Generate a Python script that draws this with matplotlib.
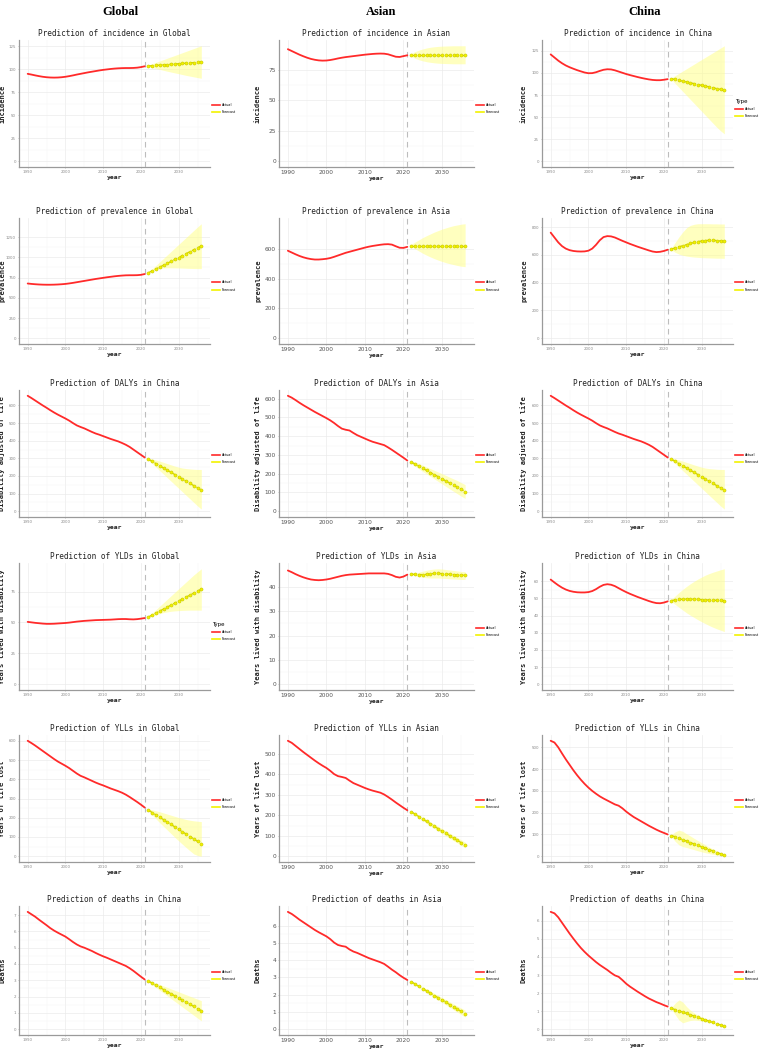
import matplotlib
matplotlib.use("Agg")
import matplotlib.pyplot as plt
from matplotlib.lines import Line2D
import numpy as np

# ---------------- data ----------------
years_actual = list(range(1990, 2022))
years_fc = list(range(2022, 2037))

# Row 1: incidence
glob_inc = [95, 94.2, 93.3, 92.5, 91.8, 91.3, 91.0, 90.9, 91.0, 91.3, 91.8, 92.5, 93.3, 94.2, 95.0, 95.8,
            96.6, 97.3, 98.0, 98.7, 99.3, 99.8, 100.3, 100.7, 101.0, 101.2, 101.3, 101.3, 101.4, 101.7, 102.3, 103.2]
glob_inc_fc = [103.6, 103.9, 104.2, 104.5, 104.8, 105.1, 105.4, 105.7, 106.0, 106.3, 106.6, 106.9, 107.2, 107.5, 107.8]
glob_inc_hi = [104.2, 106.0, 107.5, 109.0, 110.5, 112.0, 113.5, 115.0, 116.5, 118.0, 119.5, 121.0, 122.5, 124.0, 125.5]
glob_inc_lo = [103.0, 101.8, 100.8, 99.8, 98.8, 97.8, 96.9, 96.0, 95.1, 94.2, 93.3, 92.5, 91.7, 90.9, 90.2]

asia_inc = [92.0, 90.5, 89.0, 87.5, 86.2, 85.0, 84.0, 83.3, 82.8, 82.6, 82.7, 83.1, 83.7, 84.4, 85.0, 85.5,
            85.9, 86.3, 86.7, 87.1, 87.5, 87.8, 88.1, 88.3, 88.4, 88.3, 87.8, 86.8, 85.8, 85.6, 86.3, 87.0]
asia_inc_fc = [87.3, 87.3, 87.3, 87.3, 87.3, 87.3, 87.3, 87.3, 87.3, 87.3, 87.3, 87.3, 87.3, 87.3, 87.3]
asia_inc_hi = [88.5, 90.0, 91.2, 92.2, 93.0, 93.6, 94.0, 94.3, 94.5, 94.6, 94.7, 94.8, 94.8, 94.8, 94.8]
asia_inc_lo = [86.0, 84.5, 83.3, 82.4, 81.7, 81.2, 80.8, 80.5, 80.3, 80.2, 80.1, 80.0, 80.0, 80.0, 80.0]

china_inc = [121, 117.5, 114, 111, 108.5, 106.5, 104.8, 103.2, 101.8, 100.5, 99.7, 99.8, 100.8, 102.3, 103.6, 104.2,
             104.0, 103.0, 101.6, 100.2, 98.8, 97.6, 96.5, 95.4, 94.4, 93.5, 92.7, 92.1, 91.8, 91.8, 92.3, 93.0]
china_inc_fc = [93.5, 92.6, 91.6, 90.7, 89.8, 88.8, 87.9, 86.9, 86.0, 85.1, 84.2, 83.2, 82.3, 81.4, 80.5]
china_inc_hi = [94.5, 97.0, 99.6, 102.2, 104.8, 107.4, 110.0, 112.6, 115.2, 117.8, 120.4, 123.0, 125.6, 128.2, 130.8]
china_inc_lo = [92.5, 88.0, 83.5, 79.0, 74.5, 70.0, 65.5, 61.0, 56.5, 52.0, 47.5, 43.0, 38.5, 34.5, 31.0]

# Row 2: prevalence
glob_prev = [676, 671, 667, 664, 662, 661, 661, 662, 664, 667, 671, 677, 684, 692, 700, 708,
             716, 724, 732, 739, 746, 753, 759, 765, 770, 774, 777, 778, 778, 779, 783, 793]
glob_prev_fc = [810, 833, 856, 879, 902, 925, 949, 973, 997, 1021, 1045, 1069, 1093, 1117, 1140]
glob_prev_hi = [815, 858, 901, 944, 987, 1030, 1073, 1116, 1159, 1202, 1245, 1288, 1331, 1374, 1414]
glob_prev_lo = [805, 830, 850, 862, 868, 870, 870, 869, 868, 866, 864, 862, 861, 860, 860]

asia_prev = [587, 575, 563, 552, 543, 536, 531, 528, 528, 530, 533, 538, 546, 555, 564, 573,
             580, 587, 594, 601, 608, 614, 619, 623, 627, 630, 631, 628, 617, 607, 606, 613]
asia_prev_fc = [622, 622, 622, 622, 622, 622, 622, 622, 622, 622, 622, 622, 622, 622, 622]
asia_prev_hi = [630, 645, 660, 675, 688, 700, 712, 722, 732, 740, 748, 755, 760, 765, 768]
asia_prev_lo = [614, 600, 585, 570, 557, 545, 534, 524, 515, 507, 500, 494, 488, 483, 480]

china_prev = [760, 725, 690, 663, 645, 634, 628, 625, 624, 625, 630, 645, 672, 705, 728, 735,
              733, 725, 713, 701, 690, 679, 669, 659, 650, 641, 632, 624, 620, 622, 628, 637]
china_prev_fc = [642, 650, 658, 666, 674, 682, 689, 695, 700, 703, 705, 705, 703, 700, 697]
china_prev_hi = [650, 690, 730, 765, 795, 812, 820, 824, 824, 824, 824, 823, 823, 822, 822]
china_prev_lo = [635, 618, 605, 597, 591, 587, 584, 582, 580, 579, 578, 577, 576, 576, 575]

# Row 3: DALYs
china_daly = [655, 642, 628, 614, 600, 587, 573, 560, 548, 537, 526, 514, 500, 487, 478, 470,
              460, 450, 441, 434, 426, 418, 410, 403, 396, 387, 377, 365, 350, 335, 320, 305]
china_daly_fc = [295, 283, 270, 258, 245, 233, 220, 208, 195, 183, 170, 158, 145, 133, 120]
china_daly_hi = [300, 296, 290, 284, 277, 270, 263, 256, 250, 245, 242, 240, 238, 237, 237]
china_daly_lo = [290, 270, 250, 230, 210, 190, 170, 150, 130, 110, 90, 70, 50, 30, 12]

asia_daly = [615, 605, 592, 578, 565, 553, 541, 529, 518, 507, 496, 484, 470, 454, 440, 434,
             430, 417, 405, 396, 387, 378, 370, 364, 358, 352, 340, 327, 313, 299, 285, 270]
asia_daly_fc = [262, 251, 240, 229, 217, 206, 195, 184, 173, 161, 150, 139, 128, 116, 105]
asia_daly_hi = [268, 262, 254, 245, 236, 227, 218, 209, 200, 191, 181, 172, 163, 152, 142]
asia_daly_lo = [256, 240, 226, 212, 198, 185, 172, 159, 146, 132, 119, 106, 93, 80, 68]

# Row 4: YLDs
glob_yld = [50.5, 50.1, 49.7, 49.4, 49.1, 48.9, 48.9, 49.0, 49.2, 49.4, 49.6, 49.9, 50.3, 50.7, 51.0, 51.3,
            51.5, 51.7, 51.9, 52.0, 52.1, 52.2, 52.3, 52.5, 52.7, 52.8, 52.8, 52.6, 52.5, 52.7, 53.1, 53.6]
glob_yld_fc = [54.5, 56.1, 57.7, 59.3, 60.9, 62.5, 64.1, 65.8, 67.4, 69.0, 70.6, 72.2, 73.8, 75.4, 77.0]
glob_yld_hi = [55.0, 57.7, 60.5, 63.3, 66.1, 68.9, 71.7, 74.5, 77.3, 80.1, 82.9, 85.7, 88.5, 91.0, 93.5]
glob_yld_lo = [54.0, 55.2, 56.3, 57.2, 58.0, 58.6, 59.1, 59.4, 59.6, 59.8, 59.9, 60.0, 60.0, 60.0, 60.0]

asia_yld = [46.7, 46.0, 45.2, 44.5, 43.9, 43.4, 43.0, 42.8, 42.7, 42.8, 43.0, 43.3, 43.7, 44.1, 44.5, 44.8,
            45.0, 45.1, 45.2, 45.3, 45.4, 45.5, 45.5, 45.5, 45.5, 45.5, 45.3, 44.8, 44.1, 43.8, 44.2, 45.0]
asia_yld_fc = [45.2, 45.1, 45.0, 45.0, 45.1, 45.3, 45.5, 45.5, 45.4, 45.3, 45.1, 45.0, 44.9, 44.8, 44.8]
asia_yld_hi = [45.4, 45.6, 46.0, 46.4, 46.8, 47.1, 47.3, 47.4, 47.3, 47.1, 46.9, 46.7, 46.5, 46.3, 46.2]
asia_yld_lo = [45.0, 44.6, 44.2, 43.9, 43.7, 43.6, 43.6, 43.6, 43.5, 43.4, 43.3, 43.2, 43.1, 43.0, 43.0]

china_yld = [61.0, 59.3, 57.7, 56.3, 55.2, 54.4, 53.9, 53.6, 53.5, 53.5, 53.7, 54.3, 55.4, 56.8, 57.9, 58.3,
             58.0, 57.2, 56.0, 54.8, 53.7, 52.7, 51.8, 50.9, 50.1, 49.3, 48.5, 47.8, 47.3, 47.2, 47.6, 48.3]
china_yld_fc = [48.8, 49.1, 49.4, 49.6, 49.7, 49.7, 49.6, 49.5, 49.3, 49.2, 49.1, 49.0, 48.9, 48.9, 48.8]
china_yld_hi = [49.5, 51.5, 53.5, 55.3, 57.0, 58.6, 60.0, 61.3, 62.5, 63.6, 64.5, 65.3, 66.0, 66.7, 67.3]
china_yld_lo = [48.1, 46.5, 44.8, 43.2, 41.6, 40.2, 38.9, 37.6, 36.4, 35.3, 34.2, 33.2, 32.3, 31.5, 30.7]

# Row 5: YLLs
glob_yll = [600, 588, 575, 561, 547, 533, 519, 505, 492, 481, 470, 458, 444, 430, 418, 410,
            401, 392, 383, 375, 368, 360, 352, 345, 338, 330, 320, 308, 295, 282, 268, 253]
glob_yll_fc = [240, 227, 215, 202, 190, 177, 165, 152, 140, 127, 115, 102, 90, 77, 65]
glob_yll_hi = [245, 241, 236, 231, 225, 219, 213, 207, 201, 196, 191, 187, 184, 182, 180]
glob_yll_lo = [235, 214, 194, 174, 155, 136, 117, 98, 80, 62, 45, 28, 12, 4, 0]

asia_yll = [565, 555, 540, 525, 510, 496, 482, 468, 455, 443, 432, 418, 402, 392, 388, 383,
            370, 358, 350, 342, 334, 327, 321, 316, 311, 302, 290, 277, 263, 250, 237, 225]
asia_yll_fc = [218, 206, 194, 182, 170, 158, 146, 135, 123, 112, 100, 89, 78, 66, 55]
asia_yll_hi = [222, 212, 201, 190, 179, 168, 157, 146, 135, 124, 113, 102, 91, 80, 69]
asia_yll_lo = [214, 200, 187, 174, 161, 148, 135, 124, 111, 100, 87, 76, 65, 52, 41]

china_yll = [530, 522, 500, 472, 445, 420, 395, 372, 351, 332, 315, 300, 287, 275, 265, 256,
             247, 238, 232, 220, 205, 192, 180, 170, 160, 150, 140, 131, 122, 114, 107, 100]
china_yll_fc = [95, 89, 82, 76, 69, 63, 56, 50, 43, 37, 30, 24, 17, 11, 4]
china_yll_hi = [100, 112, 120, 114, 103, 93, 82, 72, 62, 52, 42, 33, 25, 17, 8]
china_yll_lo = [90, 68, 52, 44, 40, 35, 30, 25, 20, 16, 12, 9, 6, 3, 0]

# Row 6: deaths
glob_death = [7.2, 7.05, 6.9, 6.72, 6.55, 6.38, 6.2, 6.05, 5.92, 5.8, 5.68, 5.52, 5.35, 5.2, 5.08, 5.0,
              4.9, 4.8, 4.68, 4.57, 4.47, 4.38, 4.28, 4.18, 4.08, 3.98, 3.88, 3.74, 3.58, 3.4, 3.22, 3.05]
glob_death_fc = [2.95, 2.82, 2.69, 2.56, 2.43, 2.30, 2.17, 2.04, 1.91, 1.78, 1.65, 1.52, 1.39, 1.26, 1.13]
glob_death_hi = [3.0, 2.92, 2.83, 2.74, 2.65, 2.56, 2.47, 2.38, 2.29, 2.20, 2.11, 2.02, 1.93, 1.84, 1.75]
glob_death_lo = [2.9, 2.72, 2.55, 2.38, 2.21, 2.04, 1.87, 1.70, 1.53, 1.36, 1.19, 1.02, 0.85, 0.68, 0.51]

asia_death = [6.8, 6.68, 6.52, 6.35, 6.2, 6.05, 5.9, 5.75, 5.62, 5.5, 5.38, 5.22, 5.02, 4.88, 4.82, 4.78,
              4.62, 4.5, 4.42, 4.32, 4.22, 4.12, 4.04, 3.96, 3.88, 3.78, 3.62, 3.45, 3.3, 3.13, 2.98, 2.85]
asia_death_fc = [2.75, 2.62, 2.48, 2.35, 2.22, 2.09, 1.95, 1.82, 1.69, 1.56, 1.42, 1.29, 1.16, 1.03, 0.9]
asia_death_hi = [2.8, 2.69, 2.56, 2.44, 2.32, 2.20, 2.07, 1.95, 1.83, 1.71, 1.58, 1.46, 1.34, 1.22, 1.10]
asia_death_lo = [2.7, 2.55, 2.40, 2.26, 2.12, 1.98, 1.83, 1.69, 1.55, 1.41, 1.26, 1.12, 0.98, 0.84, 0.70]

china_death = [6.5, 6.42, 6.2, 5.9, 5.6, 5.3, 5.02, 4.75, 4.5, 4.28, 4.08, 3.9, 3.72, 3.56, 3.42, 3.28,
               3.12, 2.98, 2.9, 2.72, 2.52, 2.36, 2.22, 2.08, 1.95, 1.82, 1.7, 1.6, 1.5, 1.42, 1.33, 1.25]
china_death_fc = [1.15, 1.08, 1.01, 0.94, 0.87, 0.80, 0.72, 0.65, 0.58, 0.51, 0.44, 0.37, 0.30, 0.23, 0.16]
china_death_hi = [1.2, 1.45, 1.62, 1.5, 1.25, 1.05, 0.9, 0.78, 0.67, 0.58, 0.49, 0.41, 0.33, 0.25, 0.18]
china_death_lo = [1.1, 0.8, 0.5, 0.35, 0.42, 0.48, 0.5, 0.48, 0.45, 0.41, 0.37, 0.32, 0.27, 0.21, 0.14]

col_headers = ["Global", "Asian", "China"]
x_ticks = [1990, 2000, 2010, 2020, 2030]
legend_labels = ["Actual", "Forecast"]

panels = [
    # (row, col, title, ylabel, actual, fc, hi, lo, ystep, legend_title)
    (0, 0, "Prediction of incidence in Global", "incidence", glob_inc, glob_inc_fc, glob_inc_hi, glob_inc_lo, 25, None),
    (0, 1, "Prediction of incidence in Asian", "incidence", asia_inc, asia_inc_fc, asia_inc_hi, asia_inc_lo, 25, None),
    (0, 2, "Prediction of incidence in China", "incidence", china_inc, china_inc_fc, china_inc_hi, china_inc_lo, 25, "Type"),
    (1, 0, "Prediction of prevalence in Global", "prevalence", glob_prev, glob_prev_fc, glob_prev_hi, glob_prev_lo, 250, None),
    (1, 1, "Prediction of prevalence in Asia", "prevalence", asia_prev, asia_prev_fc, asia_prev_hi, asia_prev_lo, 200, None),
    (1, 2, "Prediction of prevalence in China", "prevalence", china_prev, china_prev_fc, china_prev_hi, china_prev_lo, 200, None),
    (2, 0, "Prediction of DALYs in China", "Disability adjusted of life", china_daly, china_daly_fc, china_daly_hi, china_daly_lo, 100, None),
    (2, 1, "Prediction of DALYs in Asia", "Disability adjusted of life", asia_daly, asia_daly_fc, asia_daly_hi, asia_daly_lo, 100, None),
    (2, 2, "Prediction of DALYs in China", "Disability adjusted of life", china_daly, china_daly_fc, china_daly_hi, china_daly_lo, 100, None),
    (3, 0, "Prediction of YLDs in Global", "Years lived with disability", glob_yld, glob_yld_fc, glob_yld_hi, glob_yld_lo, 25, "Type"),
    (3, 1, "Prediction of YLDs in Asia", "Years lived with disability", asia_yld, asia_yld_fc, asia_yld_hi, asia_yld_lo, 10, None),
    (3, 2, "Prediction of YLDs in China", "Years lived with disability", china_yld, china_yld_fc, china_yld_hi, china_yld_lo, 10, None),
    (4, 0, "Prediction of YLLs in Global", "Years of life lost", glob_yll, glob_yll_fc, glob_yll_hi, glob_yll_lo, 100, None),
    (4, 1, "Prediction of YLLs in Asian", "Years of life lost", asia_yll, asia_yll_fc, asia_yll_hi, asia_yll_lo, 100, None),
    (4, 2, "Prediction of YLLs in China", "Years of life lost", china_yll, china_yll_fc, china_yll_hi, china_yll_lo, 100, None),
    (5, 0, "Prediction of deaths in China", "Deaths", glob_death, glob_death_fc, glob_death_hi, glob_death_lo, 1, None),
    (5, 1, "Prediction of deaths in Asia", "Deaths", asia_death, asia_death_fc, asia_death_hi, asia_death_lo, 1, None),
    (5, 2, "Prediction of deaths in China", "Deaths", china_death, china_death_fc, china_death_hi, china_death_lo, 1, None),
]

# ---------------- layout ----------------
W, H = 767, 1053
fig = plt.figure(figsize=(W / 100, H / 100), dpi=100)

col_x = [(19, 210), (279, 474), (542, 733)]
row_y = [(40, 167), (218, 344), (390, 517), (563, 690), (735, 862), (906, 1035)]
col_centers = [120, 381, 645]
ylabel_x = [5, 261, 527]

RED = "#FF2A2A"
YEL_LINE = "#D8D800"
YEL_PT = "#F2F200"
RIBBON = "#FFFF8C"

for j, name in enumerate(col_headers):
    fig.text(col_centers[j] / W, 1 - 12 / H, name, ha="center", va="center",
             fontsize=9, fontweight="bold", family="Liberation Serif")

for (r, c, title, ylab, act, fc, hi, lo, ystep, legtitle) in panels:
    x0, x1 = col_x[c]
    y0, y1 = row_y[r]
    ax = fig.add_axes([x0 / W, 1 - y1 / H, (x1 - x0) / W, (y1 - y0) / H])

    ax.fill_between(years_fc, lo, hi, color=RIBBON, alpha=0.55, lw=0, zorder=2)
    ax.plot(years_actual, act, color=RED, lw=1.3, zorder=4, solid_capstyle="round")
    ax.plot(years_fc, fc, color=YEL_LINE, lw=1.0, ls=(0, (3, 2)), zorder=5,
            marker="o", ms=2.2, mfc=YEL_PT, mec="#C8C800", mew=0.4)
    ax.axvline(2021, color="#BDBDBD", lw=0.8, ls=(0, (5, 4)), zorder=3)

    top = max(max(act), max(hi), max(fc))
    ax.set_ylim(-0.05 * top, top * 1.05)
    ax.set_xlim(1990 - 0.05 * 46, 2036 + 0.05 * 46)
    ax.set_xticks(x_ticks)
    yt = np.arange(0, top + 1e-9, ystep)
    ax.set_yticks(yt)
    ax.set_yticks(yt[:-1] + ystep / 2, minor=True)
    ax.set_xticks([1995, 2005, 2015, 2025, 2035], minor=True)
    ax.grid(True, which="major", color="#EBEBEB", lw=0.5)
    ax.grid(True, which="minor", color="#F4F4F4", lw=0.35)
    ax.set_axisbelow(True)

    for s in ["top", "right"]:
        ax.spines[s].set_visible(False)
    for s in ["left", "bottom"]:
        ax.spines[s].set_color("#9A9A9A")
        ax.spines[s].set_linewidth(0.9)

    tfs = 4.2 if c == 1 else 2.9
    tcol = "#555555" if c == 1 else "#8A8A8A"
    ax.tick_params(axis="both", which="major", length=1.0, width=0.4, color="#9A9A9A",
                   labelsize=tfs, labelcolor=tcol, pad=1.2)
    ax.tick_params(axis="both", which="minor", length=0)
    ax.set_yticklabels([f"{v:g}" for v in yt])

    ax.set_title(title, fontsize=5.6, family="DejaVu Sans Mono", color="#222222", pad=3)
    ax.set_ylabel(ylab, fontsize=5.0, family="DejaVu Sans Mono", fontweight="bold",
                  color="#222222")
    ax.yaxis.set_label_coords((ylabel_x[c] - x0) / (x1 - x0), 0.5)
    ax.set_xlabel("year", fontsize=4.6, family="DejaVu Sans Mono", fontweight="bold",
                  color="#222222", labelpad=1)

    handles = [Line2D([0], [0], color=RED, lw=1.2),
               Line2D([0], [0], color=YEL_PT, lw=1.2)]
    leg = ax.legend(handles, legend_labels, loc="center left",
                    bbox_to_anchor=(1.0, 0.46), frameon=False, fontsize=2.4,
                    handlelength=2.4, handletextpad=0.5, labelspacing=1.0,
                    borderaxespad=0.6, borderpad=0.1,
                    title=legtitle, title_fontsize=4.0)
    if legtitle:
        leg._legend_box.align = "left"

fig.savefig("out.png", dpi=100)
